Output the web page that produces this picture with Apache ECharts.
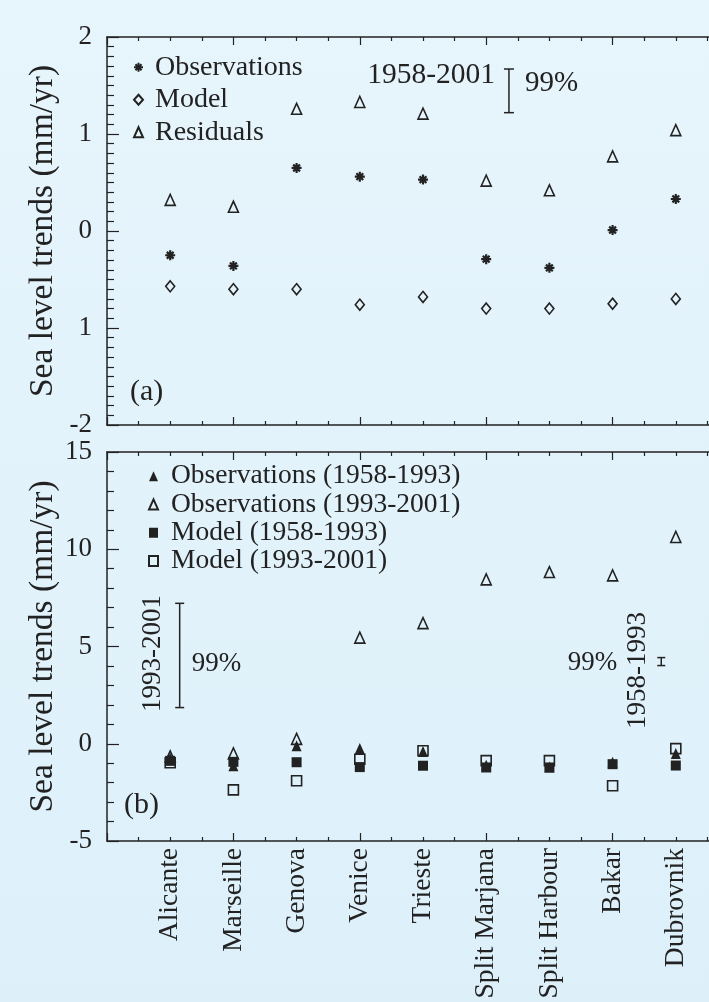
<!DOCTYPE html>
<html>
<head>
<meta charset="utf-8">
<script src="https://cdn.jsdelivr.net/npm/echarts@6/dist/echarts.min.js"></script>
<style>
  html, body { margin: 0; padding: 0; overflow: hidden; background: #e3f2fa; }
  /* the frame runs on past the right edge of the window */
  #chart { width: 740px; height: 1002px; }
</style>
</head>
<body>
<div id="chart"></div>
<script>
// Tide-gauge stations, placed at x = 1..9
const stations = ['Alicante', 'Marseille', 'Genova', 'Venice', 'Trieste',
                  'Split Marjana', 'Split Harbour', 'Bakar', 'Dubrovnik'];

// (a) 1958-2001 sea level trends (mm/yr)
const obsA   = [-0.25, -0.36, 0.65, 0.56, 0.53, -0.29, -0.38, 0.01, 0.33];
const modelA = [-0.57, -0.60, -0.60, -0.76, -0.68, -0.80, -0.80, -0.75, -0.70];
const residA = [0.32, 0.25, 1.26, 1.33, 1.21, 0.52, 0.42, 0.77, 1.04];

// (b) trends over the two sub-periods (mm/yr)
const obsB5893   = [-0.75, -1.13, -0.10, -0.25, -0.40, -1.10, -1.20, -0.95, -0.50];
const obsB9301   = [-0.65, -0.50, 0.25, 5.46, 6.20, 8.45, 8.83, 8.66, 10.63];
const modelB5893 = [-0.88, -0.93, -0.95, -1.20, -1.13, -1.22, -1.22, -1.05, -1.12];
const modelB9301 = [-0.98, -2.37, -1.90, -0.80, -0.36, -0.87, -0.87, -2.16, -0.25];

// y tick labels of panel (a), for values -2..2
const yTicksA = ['-2', '1', '0', '1', '2'];

// 99% confidence bars: [x, low, high]
const barA    = [6.36, 1.22, 1.67];
const barB93  = [1.15, 1.86, 7.22];
const barB58  = [8.77, 4.02, 4.43];

const FONT = '"Liberation Serif", "Times New Roman", serif';
const INK = '#222';

const pts = vals => vals.map((v, i) => [i + 1, v]);

const ASTERISK = 'path://M0,5L10,5M5,0L5,10M1.6,1.6L8.4,8.4M8.4,1.6L1.6,8.4';
const hollow = { color: 'rgba(0,0,0,0)', borderColor: INK, borderWidth: 1.6, opacity: 1 };
const filled = { color: INK, opacity: 1 };

function frameX(gridIndex, position) {
  return {
    type: 'value', gridIndex, position, min: 0, max: 10, interval: 2,
    axisLine: { show: true, onZero: false, lineStyle: { color: INK, width: 1.5 } },
    axisTick: { show: true, inside: true, length: 8, lineStyle: { color: INK, width: 1.2 } },
    minorTick: { show: true, splitNumber: 4, length: 4, lineStyle: { color: INK, width: 1.2 } },
    axisLabel: { show: false }, splitLine: { show: false }
  };
}

function yAxis(gridIndex, min, max, interval, minorSplit, formatter) {
  return {
    type: 'value', gridIndex, min, max, interval,
    name: 'Sea level trends (mm/yr)', nameLocation: 'middle', nameGap: 47,
    nameMoveOverlap: false,
    nameTextStyle: { fontFamily: FONT, fontSize: 33.5, color: INK },
    axisLine: { show: true, onZero: false, lineStyle: { color: INK, width: 1.5 } },
    axisTick: { show: true, inside: true, length: 12, lineStyle: { color: INK, width: 1.2 } },
    minorTick: { show: true, splitNumber: minorSplit, length: 7, lineStyle: { color: INK, width: 1.2 } },
    axisLabel: { fontFamily: FONT, fontSize: 27, color: INK, margin: 15, formatter },
    splitLine: { show: false }
  };
}

// confidence bar with its captions; offsets in pixels from the bar
function confBar(xAxisIndex, yAxisIndex, bar, cap, texts) {
  return {
    type: 'custom', xAxisIndex, yAxisIndex, data: [bar], silent: true, z: 5,
    renderItem: (params, api) => {
      const x = api.value(0);
      const lo = api.coord([x, api.value(1)]);
      const hi = api.coord([x, api.value(2)]);
      const mid = (lo[1] + hi[1]) / 2;
      const st = { stroke: INK, lineWidth: 1.5 };
      const children = [
        { type: 'line', shape: { x1: lo[0], y1: lo[1], x2: hi[0], y2: hi[1] }, style: st },
        { type: 'line', shape: { x1: lo[0] - cap, y1: lo[1], x2: lo[0] + cap, y2: lo[1] }, style: st },
        { type: 'line', shape: { x1: hi[0] - cap, y1: hi[1], x2: hi[0] + cap, y2: hi[1] }, style: st }
      ];
      texts.forEach(t => {
        const ref = t.from === 'hi' ? hi[1] : mid;
        children.push({
          type: 'text', x: lo[0] + t.dx, y: ref + t.dy, rotation: t.rot || 0,
          style: { text: t.text, fontFamily: FONT, fontSize: t.size, fill: INK,
                   align: t.align, verticalAlign: 'middle' }
        });
      });
      return { type: 'group', children };
    }
  };
}

const chart = echarts.init(document.getElementById('chart'), null, { renderer: 'canvas' });

chart.setOption({
  backgroundColor: {
    type: 'linear', x: 0, y: 0, x2: 0, y2: 1,
    colorStops: [{ offset: 0, color: '#e7f5fc' }, { offset: 1, color: '#ddf0fa' }]
  },
  animation: false,
  textStyle: { fontFamily: FONT },
  grid: [
    { left: 107, top: 37, width: 632, height: 388 },
    { left: 107, top: 452, width: 632, height: 389 }
  ],
  xAxis: [
    frameX(0, 'bottom'), frameX(0, 'top'),
    frameX(1, 'bottom'), frameX(1, 'top'),
    {
      type: 'value', gridIndex: 1, position: 'bottom', min: 0, max: 10, interval: 1,
      axisLine: { show: false }, axisTick: { show: false }, splitLine: { show: false },
      axisLabel: {
        rotate: 90, margin: 7, fontFamily: FONT, fontSize: 27.5, color: INK,
        formatter: v => stations[v - 1] || ''
      }
    }
  ],
  yAxis: [
    yAxis(0, -2, 2, 1, 10, v => yTicksA[Math.round(v) + 2]),
    yAxis(1, -5, 15, 5, 5, v => String(v))
  ],
  legend: [
    {
      data: ['Observations', 'Model', 'Residuals'],
      orient: 'vertical', left: 128, top: 46, itemGap: 0, itemWidth: 9, itemHeight: 10,
      textStyle: { fontFamily: FONT, fontSize: 28, color: INK, lineHeight: 32.5, padding: [0, 0, 0, 7] },
      selectedMode: false
    },
    {
      data: ['Observations (1958-1993)', 'Observations (1993-2001)', 'Model (1958-1993)', 'Model (1993-2001)'],
      orient: 'vertical', left: 143, top: 457, itemGap: 0, itemWidth: 9, itemHeight: 10,
      textStyle: { fontFamily: FONT, fontSize: 27.5, color: INK, lineHeight: 28.3, padding: [0, 0, 0, 8] },
      selectedMode: false
    }
  ],
  graphic: [
    { type: 'text', left: 130, top: 377, style: { text: '(a)', fontFamily: FONT, fontSize: 30, fill: INK } },
    { type: 'text', left: 124, top: 790, style: { text: '(b)', fontFamily: FONT, fontSize: 30, fill: INK } }
  ],
  series: [
    { name: 'Observations', type: 'scatter', xAxisIndex: 0, yAxisIndex: 0, data: pts(obsA),
      symbol: ASTERISK, symbolSize: 10, itemStyle: { color: INK, borderColor: INK, borderWidth: 2.2, opacity: 1 } },
    { name: 'Model', type: 'scatter', xAxisIndex: 0, yAxisIndex: 0, data: pts(modelA),
      symbol: 'diamond', symbolSize: [9, 11], itemStyle: hollow },
    { name: 'Residuals', type: 'scatter', xAxisIndex: 0, yAxisIndex: 0, data: pts(residA),
      symbol: 'triangle', symbolSize: [10, 11], itemStyle: hollow },

    { name: 'Observations (1958-1993)', type: 'scatter', xAxisIndex: 2, yAxisIndex: 1, data: pts(obsB5893),
      symbol: 'triangle', symbolSize: [10, 11], itemStyle: filled },
    { name: 'Observations (1993-2001)', type: 'scatter', xAxisIndex: 2, yAxisIndex: 1, data: pts(obsB9301),
      symbol: 'triangle', symbolSize: [10, 11], itemStyle: hollow },
    { name: 'Model (1958-1993)', type: 'scatter', xAxisIndex: 2, yAxisIndex: 1, data: pts(modelB5893),
      symbol: 'rect', symbolSize: 10, itemStyle: filled },
    { name: 'Model (1993-2001)', type: 'scatter', xAxisIndex: 2, yAxisIndex: 1, data: pts(modelB9301),
      symbol: 'rect', symbolSize: 10, itemStyle: hollow },

    confBar(0, 0, barA, 5, [
      { text: '1958-2001', dx: -14, dy: 6, from: 'hi', size: 29.5, align: 'right' },
      { text: '99%', dx: 16, dy: 14, from: 'hi', size: 29, align: 'left' }
    ]),
    confBar(2, 1, barB93, 4.5, [
      { text: '1993-2001', dx: -27, dy: -2, size: 27, align: 'center', rot: Math.PI / 2 },
      { text: '99%', dx: 12, dy: 8, size: 27, align: 'left' }
    ]),
    confBar(2, 1, barB58, 4, [
      { text: '99%', dx: -44, dy: 1, size: 27, align: 'right' },
      { text: '1958-1993', dx: -23, dy: 9, size: 27, align: 'center', rot: Math.PI / 2 }
    ])
  ]
});
</script>
</body>
</html>
